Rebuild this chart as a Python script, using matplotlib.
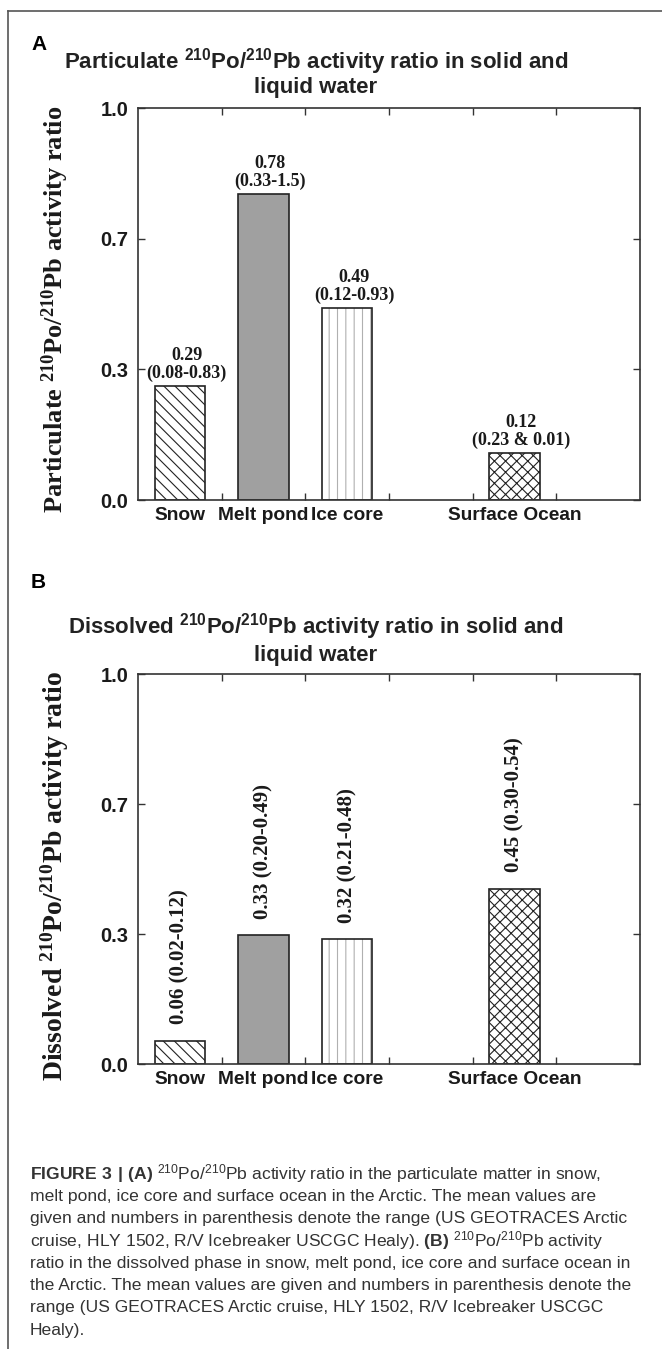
import matplotlib
matplotlib.use('Agg')
import matplotlib.pyplot as plt
from matplotlib.lines import Line2D

plt.rcParams['font.family'] = ['Liberation Sans', 'DejaVu Sans']
plt.rcParams['mathtext.fontset'] = 'custom'
plt.rcParams['mathtext.rm'] = 'Liberation Sans'
plt.rcParams['mathtext.bf'] = 'Liberation Sans:bold'
plt.rcParams['mathtext.default'] = 'regular'
plt.rcParams['hatch.linewidth'] = 0.8

# data
sites = ['Snow', 'Melt pond', 'Ice core', 'Surface Ocean']
site_pos = [0.5, 1.5, 2.5, 4.5]
part_mean = [0.29, 0.78, 0.49, 0.12]
part_range = ['(0.08-0.83)', '(0.33-1.5)', '(0.12-0.93)', '(0.23 & 0.01)']
diss_mean = [0.06, 0.33, 0.32, 0.45]
diss_range = ['(0.02-0.12)', '(0.20-0.49)', '(0.21-0.48)', '(0.30-0.54)']
y_ticks = [0, 1 / 3, 2 / 3, 1]

# bar styles: face, hatch, hatch colour
styles = [('white', '\\\\\\', '#222222'),
          ('#a0a0a0', '', '#222222'),
          ('white', '||', '#b0b0b0'),
          ('white', 'xxx', '#222222')]

caption = [
    r'$\mathbf{FIGURE\ 3\ |\ (A)}$ $^{210}$Po/$^{210}$Pb activity ratio in the particulate matter in snow,',
    'melt pond, ice core and surface ocean in the Arctic. The mean values are',
    'given and numbers in parenthesis denote the range (US GEOTRACES Arctic',
    r'cruise, HLY 1502, R/V Icebreaker USCGC Healy). $\mathbf{(B)}$ $^{210}$Po/$^{210}$Pb activity',
    'ratio in the dissolved phase in snow, melt pond, ice core and surface ocean in',
    'the Arctic. The mean values are given and numbers in parenthesis denote the',
    'range (US GEOTRACES Arctic cruise, HLY 1502, R/V Icebreaker USCGC',
    'Healy).',
]

W, H = 662, 1349
fig = plt.figure(figsize=(W / 100, H / 100), dpi=100)


def fx(px):
    return px / W


def fy(py):
    return 1 - py / H


def draw_panel(top, bottom, means, ranges, rotated):
    ax = fig.add_axes([fx(138), fy(bottom), fx(640 - 138), (bottom - top) / H])
    for x, v, (fc, hatch, hc) in zip(site_pos, means, styles):
        ax.bar(x, v, width=0.6, color=fc, edgecolor=hc, hatch=hatch, linewidth=0)
        ax.bar(x, v, width=0.6, fill=False, edgecolor='#222222', linewidth=1.2)
    ax.set_xlim(0, 6)
    ax.set_ylim(0, 1)
    ax.set_xticks(range(1, 6))
    ax.set_xticklabels([])
    ax.set_xticks(site_pos, sites, minor=True)
    ax.set_yticks(y_ticks, ['%.1f' % t for t in y_ticks])
    ax.tick_params(which='major', direction='in', length=5, width=1,
                   top=True, right=True, color='#333333', pad=7)
    ax.tick_params(which='minor', length=0, pad=5, top=False)
    for lab in ax.get_yticklabels():
        lab.set_fontweight('bold')
        lab.set_fontsize(14.5)
        lab.set_color('#1a1a1a')
    for lab in ax.get_xticklabels(minor=True):
        lab.set_fontweight('bold')
        lab.set_fontsize(13.8)
        lab.set_color('#1a1a1a')
    for s in ax.spines.values():
        s.set_linewidth(1.2)
        s.set_color('#333333')
    for x, v, r in zip(site_pos, means, ranges):
        if rotated:
            ax.annotate('%.2f %s' % (v, r), (x, v), xytext=(0, 12), textcoords='offset points',
                        rotation=90, ha='center', va='bottom', fontsize=15,
                        family='Liberation Serif', fontweight='bold', color='#1a1a1a')
        else:
            ax.annotate('%.2f\n%s' % (v, r), (x, v), xytext=(5, 3), textcoords='offset points',
                        ha='center', va='bottom', fontsize=13, linespacing=1.05,
                        family='Liberation Serif', fontweight='bold', color='#1a1a1a')
    return ax


draw_panel(108, 500, part_mean, part_range, False)
draw_panel(674, 1064, diss_mean, diss_range, True)

# panel letters, titles, y labels
fig.text(fx(31), fy(45), 'A', fontsize=15, fontweight='bold', va='center', ha='left')
fig.text(fx(31), fy(583), 'B', fontsize=15, fontweight='bold', va='center', ha='left')

fig.text(fx(316), fy(62), r'Particulate $^{210}$Po/$^{210}$Pb activity ratio in solid and',
         fontsize=16, fontweight='bold', ha='center', va='center', color='#222222')
fig.text(fx(316), fy(88), 'liquid water', fontsize=16, fontweight='bold',
         ha='center', va='center', color='#222222')
fig.text(fx(316), fy(627), r'Dissolved $^{210}$Po/$^{210}$Pb activity ratio in solid and',
         fontsize=16, fontweight='bold', ha='center', va='center', color='#222222')
fig.text(fx(316), fy(655), 'liquid water', fontsize=16, fontweight='bold',
         ha='center', va='center', color='#222222')

fig.text(fx(55), fy(309), r'Particulate $^{210}$Po/$^{210}$Pb activity ratio', rotation=90,
         fontsize=19, family='Liberation Serif', fontweight='bold', ha='center', va='center',
         color='#1a1a1a')
fig.text(fx(55), fy(876), r'Dissolved $^{210}$Po/$^{210}$Pb activity ratio', rotation=90,
         fontsize=20, family='Liberation Serif', fontweight='bold', ha='center', va='center',
         color='#1a1a1a')

# caption
for i, line in enumerate(caption):
    fig.text(fx(30), fy(1174 + i * 22.3), line, fontsize=12.6, ha='left', va='center',
             color='#333333')

# frame around the figure (top and left edges)
fig.add_artist(Line2D([fx(8), fx(8)], [fy(11), 0], color='#555555', linewidth=1.2))
fig.add_artist(Line2D([fx(8), 1], [fy(11), fy(11)], color='#555555', linewidth=1.2))

fig.savefig('out.png', dpi=100)
